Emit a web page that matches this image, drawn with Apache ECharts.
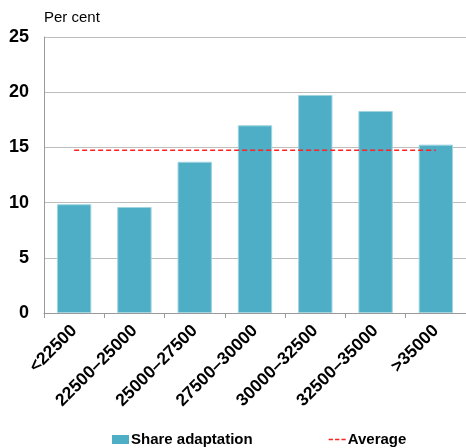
<!DOCTYPE html>
<html>
<head>
<meta charset="utf-8">
<script src="https://cdn.jsdelivr.net/npm/echarts@6/dist/echarts.min.js"></script>
<style>
  html, body { margin: 0; padding: 0; background: #fff; }
  #chart { width: 466px; height: 448px; }
</style>
</head>
<body>
<div id="chart"></div>
<script>
// Income bands and the share of adaptation in each
const categories = ['<22500', '22500\u201325000', '25000\u201327500', '27500\u201330000', '30000\u201332500', '32500\u201335000', '>35000'];
const shareAdaptation = [9.85, 9.6, 13.7, 17.0, 19.75, 18.3, 15.25];
const averageShare = 14.75;
const averageLine = categories.map(() => averageShare);
const yTicks = [0, 5, 10, 15, 20, 25];

const chart = echarts.init(document.getElementById('chart'), null, { renderer: 'canvas' });
const font = 'Arial, "Liberation Sans", sans-serif';

chart.setOption({
  animation: false,
  textStyle: { fontFamily: font },
  grid: { left: 44, right: 0, top: 37, bottom: 135, containLabel: false },
  graphic: [{
    type: 'text', left: 44, top: 10,
    style: { text: 'Per cent', font: '15px ' + font, fill: '#000' }
  }],
  legend: {
    top: 427, left: 107, itemGap: 76, itemWidth: 17, itemHeight: 9,
    textStyle: { fontFamily: font, fontSize: 15, fontWeight: 'bold', color: '#000', padding: [0, 0, 0, -3] },
    data: [
      { name: 'Share adaptation', icon: 'rect', itemStyle: { borderWidth: 0 } },
      { name: 'Average', icon: 'path://M0,0H4V1.4H0Z M6,0H10V1.4H6Z M12,0H16V1.4H12Z' }
    ]
  },
  xAxis: {
    type: 'category',
    data: categories,
    axisLine: { lineStyle: { color: '#9a9a9a', width: 1 } },
    axisTick: { show: true, length: 5, lineStyle: { color: '#9a9a9a' } },
    axisLabel: {
      rotate: 45, interval: 0, margin: 15,
      fontFamily: font, fontSize: 17.5, fontWeight: 'bold', color: '#000'
    }
  },
  yAxis: {
    type: 'value',
    min: yTicks[0], max: yTicks[yTicks.length - 1], interval: 5,
    axisLine: { show: true, lineStyle: { color: '#9a9a9a', width: 1 } },
    axisTick: { show: false },
    splitLine: { lineStyle: { color: '#bdbdbd', width: 1 } },
    axisLabel: { margin: 15, fontFamily: font, fontSize: 18, fontWeight: 'bold', color: '#000' }
  },
  series: [
    {
      name: 'Share adaptation',
      type: 'bar',
      data: shareAdaptation,
      barWidth: '57%',
      itemStyle: { color: '#4daec5', borderColor: '#9fd4e0', borderWidth: 1 }
    },
    {
      name: 'Average',
      type: 'line',
      data: averageLine,
      symbol: 'none',
      lineStyle: { color: '#ff2020', width: 1.5, type: [5, 3] },
      itemStyle: { color: '#ff2020' }
    }
  ]
});
</script>
</body>
</html>
